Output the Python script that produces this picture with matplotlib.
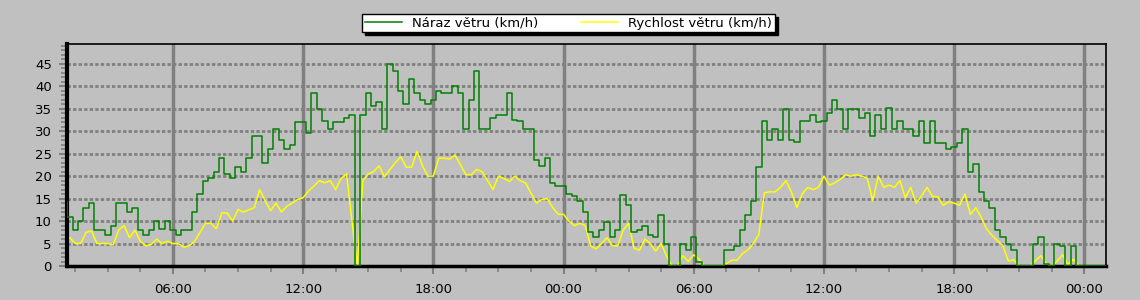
import numpy as np
import matplotlib
matplotlib.use("Agg")
from matplotlib import pyplot as plt
from matplotlib.ticker import FixedLocator, MultipleLocator

# samples every 15 min, first one at 01:00 of day 1 (hours counted from midnight)
start_hour = 1.0
step_hour = 0.25

gust = [
    14.5, 11, 8, 10,  13, 14, 8, 8,  7, 9, 14, 14,  12, 13, 8, 7,
    8, 10, 8.3, 10,  8, 7, 8, 8,  12, 16, 19, 19.5,  21, 24, 20.5, 19.5,
    22, 21, 24, 29,  29, 23, 26, 30.5,  28, 26, 27, 32,  32, 29.5, 38.5, 35,
    32.3, 30.5, 32, 32,  33, 33.7, 0, 33.7,  38.5, 35.5, 36.6, 30.5,  45, 43.3, 39, 36,
    41.6, 38.5, 37, 36,  37, 39, 38.5, 38.5,  40, 38.5, 30.5, 37,  43.3, 30.5, 30.5, 33,
    33.7, 33.7, 38.5, 32.4,  32.3, 30.5, 30.5, 23.5,  22.3, 24, 18.5, 17.7,  17.7, 16, 15.5, 14.4,
    12, 7.5, 6.5, 8,  9.75, 6.5, 8, 15.9,  13.5, 7.5, 8, 9,  7, 6.5, 11.4, 5,
    0, 0, 5, 3.5,  6.5, 1, 0, 0,  0, 0, 3.5, 3.5,  4.5, 8, 11.4, 14.4,
    22, 32.2, 28, 30.5,  28, 35, 28, 27.5,  32.2, 32.2, 33.7, 32,  32.2, 34, 37, 35,
    30.5, 35, 35, 33,  34, 28.9, 33.7, 30.5,  35.1, 30.5, 32.2, 30.5,  30.5, 28.9, 32.2, 27.4,
    32.2, 27.4, 27.4, 26,  26.5, 27.4, 30.5, 21,  22.6, 16.5, 14.4, 12.9,  8, 6.5, 5, 3.5,
    0, 0, 0, 5,  6.5, 0.5, 0, 5,  4.5, 0, 4.5, 0,  0, 0, 0, 0,
    0,
]

speed = [
    5.5, 6.3, 5, 5,  7.5, 7.8, 5, 5,  5, 4.7, 8, 9,  6.3, 8, 5.5, 4.5,
    4.8, 6, 5, 5.5,  5, 5, 4.2, 4.5,  5.5, 7.5, 9.5, 9.5,  8.3, 11.8, 11.8, 10,
    12.6, 12, 12.5, 13,  17, 14.5, 12.3, 14,  12, 13.3, 14, 14.8,  15.2, 16.7, 17.8, 19,
    18.5, 19, 17, 19.5,  20.5, 10, 0, 19,  20.5, 21, 22.3, 19.8,  21.5, 23, 24.3, 22,
    22, 25.5, 22.3, 20,  20, 24, 24, 23.8,  24.7, 22.5, 20.3, 20.3,  21.5, 21, 19, 17,
    20, 19.5, 18.8, 20,  19, 18.5, 16.2, 14,  14.8, 15, 13, 11.5,  11.5, 10, 9, 9.5,
    9, 4.5, 3.8, 5,  6.3, 4.5, 4.5, 8,  9.5, 4, 3.5, 6,  5, 3.3, 5, 2.2,
    0, 0, 2.3, 1,  2.5, 1.5, 0, 0,  0, 0, 0.5, 1.3,  1.3, 2.8, 3.6, 5,
    7, 16.3, 16.5, 16.5,  17.5, 19, 16.5, 13,  16, 17.5, 17, 17.5,  20, 18, 18.5, 19.3,
    20.3, 20, 20.3, 20,  19.5, 14.5, 20, 17.5,  18, 17.5, 19, 15.2,  17.5, 14, 15.6, 17.5,
    15.5, 15.4, 13.5, 14.3,  14, 13.5, 16, 11.5,  13, 10.8, 8.2, 6.8,  5.6, 4.5, 1.1, 1.4,
    0, 0, 0, 1.2,  2.3, 0.5, 0, 1.1,  2.5, 0.3, 1.5, 0,  0, 0, 0, 0,
    0,
]

tick_hours = [6, 12, 18, 24, 30, 36, 42, 48]
tick_labels = ["06:00", "12:00", "18:00", "00:00", "06:00", "12:00", "18:00", "00:00"]
y_ticks = [0, 5, 10, 15, 20, 25, 30, 35, 40, 45]

hours = start_hour + step_hour * np.arange(len(gust))

bg = "#C0C0C0"
grey = "#808080"

fig = plt.figure(figsize=(11.4, 3.0), dpi=100, facecolor=bg)
ax = fig.add_axes([0.0588, 0.1133, 0.9114, 0.74])
ax.set_facecolor(bg)

for y in y_ticks[1:]:
    ax.axhline(y, color=grey, lw=2, ls=(0, (1.2, 0.8)), zorder=1)
for h in tick_hours:
    ax.axvline(h, color=grey, lw=2.5, zorder=1)

ax.plot(hours, gust, color="#008000", lw=1.1, drawstyle="steps-mid",
        label="Náraz větru (km/h)", zorder=3)
ax.plot(hours, speed, color="#FFFF00", lw=1.1,
        label="Rychlost větru (km/h)", zorder=2)

ax.set_xlim(1.12, 49.0)
ax.set_ylim(0, 49.4)

ax.xaxis.set_major_locator(FixedLocator(tick_hours))
ax.set_xticklabels(tick_labels)
ax.xaxis.set_minor_locator(MultipleLocator(1.5))
ax.yaxis.set_major_locator(FixedLocator(y_ticks))
ax.yaxis.set_minor_locator(MultipleLocator(1))

ax.tick_params(axis="both", which="major", length=6, width=1.5, color=grey,
               labelsize=9.5, labelcolor="black")
ax.tick_params(axis="both", which="minor", length=4, width=1.2, color=grey)
ax.tick_params(axis="x", which="major", pad=6)
ax.tick_params(axis="y", which="major", pad=5)

ax.spines["left"].set_linewidth(3)
ax.spines["bottom"].set_linewidth(2.5)
ax.spines["top"].set_linewidth(1.2)
ax.spines["right"].set_linewidth(1.2)

leg = fig.legend(loc="center", bbox_to_anchor=(0.4987, 0.923), ncol=2,
                 frameon=True, fancybox=False, edgecolor="black", facecolor="white",
                 framealpha=1, shadow={"color": "black", "alpha": 1},
                 handlelength=2.8, handletextpad=0.8, columnspacing=3.2,
                 borderpad=0.2, borderaxespad=0,
                 prop={"family": "DejaVu Sans", "size": 9.5})
leg.get_frame().set_linewidth(1)

fig.savefig("out.png", dpi=100, facecolor=bg)
